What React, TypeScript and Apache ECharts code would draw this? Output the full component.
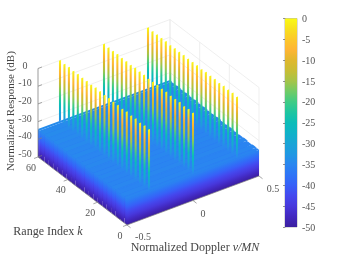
import React, { useEffect, useRef } from "react";
import * as echarts from "echarts";

const rangeIndex = [0, 3, 6, 9, 12, 15, 18, 21, 24, 27, 30, 33, 36, 39, 42, 45, 48, 51, 54, 57, 60];
const dopplerRows = [-1 / 3, 0, 1 / 3];
const floorLevels = [-35.2, -35, -35.3, -34.9, -35.1, -35.2, -34.8, -35, -35.1, -34.7, -34.9, -35, -34.6, -34.8, -34.5, -34.7, -34.4, -34.6, -34.3, -34.5, -34.2];
const peaksRowA = [-0.6, -0.4, -0.7, -0.3, -0.5, -0.2, -0.6, -0.3, -0.4, -0.2, -0.5, -0.3, -0.1, -0.4, -0.2, -0.3, -0.1, -0.3, 0, -0.2, 0];
const peaksRowB = [-0.5, -0.3, -0.6, -0.2, -0.4, -0.5, -0.2, -0.4, -0.1, -0.3, -0.5, -0.2, -0.3, -0.1, -0.4, -0.2, -0.3, 0, -0.2, -0.1, 0];
const peaksRowC = [-0.7, -0.4, -0.5, -0.3, -0.6, -0.3, -0.4, -0.2, -0.5, -0.2, -0.3, -0.4, -0.1, -0.3, -0.2, -0.4, 0, -0.2, -0.1, -0.2, 0];

const zTicks = [0, -10, -20, -30, -40, -50];
const kTicks = [0, 20, 40, 60];
const dTicks = [-0.5, 0, 0.5];

const mapLevels = [-50, -47.5, -45, -42.5, -40, -37.5, -35, -32.5, -30, -27.5, -25, -22.5, -20, -17.5, -15, -12.5, -10, -7.5, -5, -2.5, 0];
const mapColors = ["#3b1f9f", "#4228bf", "#4738dc", "#4448ee", "#3760f8", "#2e74f6", "#2a86f0", "#2098e2", "#1aa4d6", "#10b2c8", "#0cbcb8", "#1fc5a0", "#3fcb85", "#70cb66", "#a5c449", "#c8bd35", "#e0b82e", "#feb534", "#fcc82a", "#f8e01e", "#fafa14"];

const SERIF = "'Liberation Serif', serif";
const TICK = "#555555";
const TITLE = "#444444";

function hexRgb(h: string) {
  return [1, 3, 5].map((i) => parseInt(h.slice(i, i + 2), 16));
}
function colorAt(z: number) {
  const c = Math.max(-50, Math.min(0, z));
  let i = 0;
  while (i < mapLevels.length - 2 && c > mapLevels[i + 1]) i++;
  const t = (c - mapLevels[i]) / (mapLevels[i + 1] - mapLevels[i]);
  const a = hexRgb(mapColors[i]);
  const b = hexRgb(mapColors[i + 1]);
  const m = a.map((v, j) => Math.round(v + (b[j] - v) * t));
  return `rgb(${m[0]},${m[1]},${m[2]})`;
}

function project(d: number, k: number, z: number) {
  const u = d + 0.5;
  const v = k / 60;
  return [127 + 132 * u - 89 * v, 225 - 49 * u - 68 * v - (z + 50) * 1.77];
}

// Fill for a vertical face: colour follows height, constant along the sloping edge.
function faceFill(base: number[], top: number[], edge: number[], zLow: number, zHigh: number) {
  const len = Math.hypot(edge[0], edge[1]);
  let nx = edge[1] / len;
  let ny = -edge[0] / len;
  const hx = top[0] - base[0];
  const hy = top[1] - base[1];
  let dot = nx * hx + ny * hy;
  if (dot < 0) {
    nx = -nx;
    ny = -ny;
    dot = -dot;
  }
  const stops: { offset: number; color: string }[] = [{ offset: 0, color: colorAt(zLow) }];
  mapLevels.forEach((l) => {
    if (l > zLow && l < zHigh) stops.push({ offset: (l - zLow) / (zHigh - zLow), color: colorAt(l) });
  });
  stops.push({ offset: 1, color: colorAt(zHigh) });
  return new echarts.graphic.LinearGradient(base[0], base[1], base[0] + nx * dot, base[1] + ny * dot, stops, true);
}

const blockHalf = 1.3;
const spikeHalf = 0.0078;

function renderRow(_: any, api: any) {
  const k = api.value(0);
  const level = api.value(1);
  const p = (d: number, kk: number, z: number) => api.coord(project(d, kk, z));
  const k0 = Math.max(0, k - blockHalf);
  const k1 = Math.min(60, k + blockHalf);
  const children: any[] = [];
  const fa = p(-0.5, k0, -50);
  const fb = p(0.5, k0, -50);
  const ft = p(-0.5, k0, level);
  const fc = p(0.5, k0, level);
  const ba = p(-0.5, k1, -50);
  const bt = p(-0.5, k1, level);
  const bc = p(0.5, k1, level);
  children.push({
    type: "polygon",
    shape: { points: [fa, ba, bt, ft] },
    style: { fill: faceFill(fa, ft, [ba[0] - fa[0], ba[1] - fa[1]], -50, level) },
  });
  children.push({
    type: "polygon",
    shape: { points: [fa, fb, fc, ft] },
    style: { fill: faceFill(fa, ft, [fb[0] - fa[0], fb[1] - fa[1]], -50, level) },
  });
  children.push({
    type: "polygon",
    shape: { points: [ft, fc, bc, bt] },
    style: { fill: colorAt(level) },
  });
  for (let r = dopplerRows.length - 1; r >= 0; r--) {
    const d = dopplerRows[r];
    const peak = api.value(2 + r);
    const a = p(d - spikeHalf, k, level);
    const b = p(d + spikeHalf, k, level);
    const c = p(d + spikeHalf, k, peak);
    const e = p(d - spikeHalf, k, peak);
    children.push({
      type: "polygon",
      shape: { points: [a, b, c, e] },
      style: { fill: faceFill(a, e, [b[0] - a[0], b[1] - a[1]], level, peak) },
    });
  }
  return { type: "group", children };
}

function line(a: number[], b: number[], stroke: string, lineWidth = 0.7) {
  return {
    type: "line",
    shape: { x1: a[0], y1: a[1], x2: b[0], y2: b[1] },
    style: { stroke, lineWidth, fill: "none" },
  };
}

function renderWalls(_: any, api: any) {
  const p = (d: number, k: number, z: number) => api.coord(project(d, k, z));
  const grid = "#e8e8e8";
  const out: any[] = [];
  zTicks.forEach((z) => {
    out.push(line(p(-0.5, 60, z), p(0.5, 60, z), grid));
    out.push(line(p(0.5, 60, z), p(0.5, 0, z), grid));
  });
  dTicks.forEach((d) => out.push(line(p(d, 60, -50), p(d, 60, 0), grid)));
  kTicks.forEach((k) => out.push(line(p(0.5, k, -50), p(0.5, k, 0), grid)));
  return { type: "group", children: out };
}

function label(pos: number[], text: string, fontSize = 10, fill = TICK) {
  return {
    type: "text",
    x: pos[0],
    y: pos[1],
    style: { text, fill, fontSize, fontFamily: SERIF, align: "center", verticalAlign: "middle" },
  };
}

const dLabelOffsets = [[16, 11], [10, 12.5], [14, 12]];

function renderFrame(_: any, api: any) {
  const p = (d: number, k: number, z: number) => api.coord(project(d, k, z));
  const c = (x: number, y: number) => api.coord([x, y]);
  const ax = "#808080";
  const out: any[] = [];
  out.push(line(p(-0.5, 0, -50), p(-0.5, 60, -50), ax));
  out.push(line(p(-0.5, 0, -50), p(0.5, 0, -50), ax));
  out.push(line(p(-0.5, 60, -50), p(-0.5, 60, 0), ax));
  zTicks.forEach((z) => {
    out.push(line(p(-0.5, 60, z), p(-0.47, 60, z), ax));
    const b = p(-0.5, 60, z);
    out.push(label([b[0] - 13, b[1] - 3.5], String(z)));
  });
  kTicks.forEach((k) => {
    out.push(line(p(-0.5, k, -50), p(-0.53, k, -50), ax));
    const b = p(-0.5, k, -50);
    out.push(label([b[0] - 7, b[1] + 10], String(k)));
  });
  dTicks.forEach((d, i) => {
    out.push(line(p(d, 0, -50), p(d, -2.4, -50), ax));
    const b = p(d, 0, -50);
    out.push(label([b[0] + dLabelOffsets[i][0], b[1] + dLabelOffsets[i][1]], String(d)));
  });
  const rich = {
    n: { fontSize: 12, fontFamily: SERIF, fill: TITLE },
    i: { fontSize: 12, fontFamily: SERIF, fontStyle: "italic", fill: TITLE },
  };
  out.push({
    type: "text",
    x: c(48, 231)[0],
    y: c(48, 231)[1],
    style: { text: "{n|Range Index }{i|k}", fill: TITLE, align: "center", verticalAlign: "middle", rich },
  });
  out.push({
    type: "text",
    x: c(195, 247)[0],
    y: c(195, 247)[1],
    style: { text: "{n|Normalized Doppler }{i|\u03BD/MN}", fill: TITLE, align: "center", verticalAlign: "middle", rich },
  });
  out.push({
    type: "text",
    x: c(10, 111)[0],
    y: c(10, 111)[1],
    rotation: Math.PI / 2,
    style: {
      text: "Normalized Response (dB)",
      fill: TITLE,
      fontSize: 11,
      fontFamily: SERIF,
      align: "center",
      verticalAlign: "middle",
    },
  });
  return { type: "group", children: out };
}

function renderBar(_: any, api: any) {
  const a = api.coord([0, 0]);
  const b = api.coord([1, -50]);
  return {
    type: "rect",
    shape: { x: a[0], y: a[1], width: b[0] - a[0], height: b[1] - a[1] },
    style: {
      fill: new echarts.graphic.LinearGradient(
        0, 1, 0, 0,
        mapLevels.map((l, i) => ({ offset: (l + 50) / 50, color: mapColors[i] }))
      ),
    },
  };
}

export default function App() {
  const ref = useRef<HTMLDivElement>(null);
  useEffect(() => {
    if (!ref.current) return;
    const chart = echarts.init(ref.current, undefined, { renderer: "svg" });
    const rows = rangeIndex
      .map((k, i) => [k, floorLevels[i], peaksRowA[i], peaksRowB[i], peaksRowC[i]])
      .reverse();
    chart.setOption({
      animation: false,
      backgroundColor: "#ffffff",
      grid: [
        { left: 0, top: 0, width: 341, height: 256 },
        { left: 285, top: 18.5, width: 12, height: 208.5, show: true, borderColor: "#9a9a9a", borderWidth: 0.7, backgroundColor: "transparent" },
      ],
      xAxis: [
        { type: "value", min: 0, max: 341, show: false, gridIndex: 0 },
        { type: "value", min: 0, max: 1, show: false, gridIndex: 1 },
      ],
      yAxis: [
        { type: "value", min: 0, max: 256, inverse: true, show: false, gridIndex: 0 },
        {
          type: "value",
          min: -50,
          max: 0,
          interval: 5,
          position: "right",
          gridIndex: 1,
          axisLine: { show: true, lineStyle: { color: "#8a8a8a", width: 0.7 } },
          axisTick: { show: true, inside: true, length: 2, lineStyle: { color: "#666666", width: 0.7 } },
          splitLine: { show: false },
          axisLabel: { color: TICK, fontSize: 10, fontFamily: SERIF, margin: 5, align: "left" },
        },
      ],
      series: [
        { type: "custom", xAxisIndex: 0, yAxisIndex: 0, clip: false, silent: true, z: 1, renderItem: renderWalls, data: [[0, 0]] },
        { type: "custom", xAxisIndex: 0, yAxisIndex: 0, clip: false, silent: true, z: 2, renderItem: renderRow, data: rows, dimensions: ["k", "floor", "a", "b", "c"] },
        { type: "custom", xAxisIndex: 0, yAxisIndex: 0, clip: false, silent: true, z: 3, renderItem: renderFrame, data: [[0, 0]] },
        { type: "custom", xAxisIndex: 1, yAxisIndex: 1, clip: false, silent: true, z: 1, renderItem: renderBar, data: [[0, -50]] },
      ],
    });
    return () => chart.dispose();
  }, []);
  return (
    <div
      ref={ref}
      style={{ position: "fixed", left: 0, top: 0, width: 341, height: 256, background: "#fff", filter: "blur(0.4px)" }}
    />
  );
}
